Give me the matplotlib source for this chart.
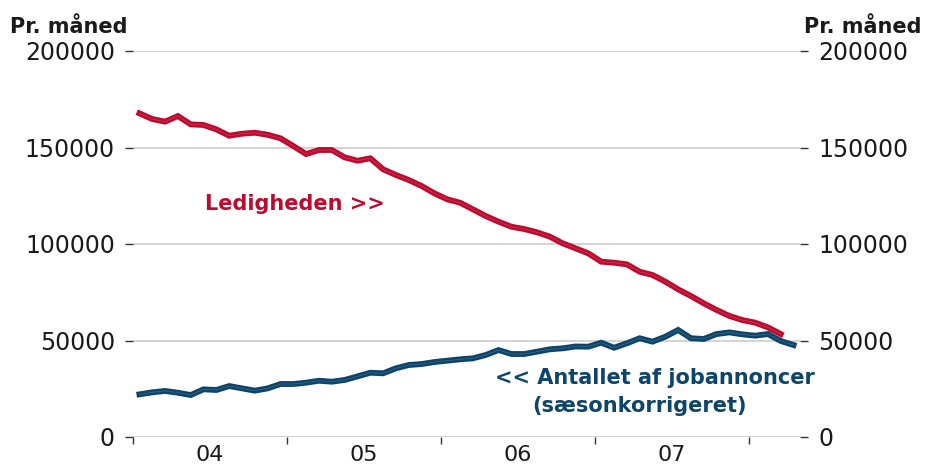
import numpy as np
import matplotlib.pyplot as plt
from matplotlib.ticker import FixedLocator, NullFormatter, FixedFormatter

# monthly data, Jan 2004 -> Apr 2008
ledighed = [167700, 164750, 163400, 166300, 162000, 161650, 159400, 156100, 157150, 157650,
            156600, 154750, 150750, 146600, 148700, 148700, 144900, 143150, 144400, 138700,
            135750, 133150, 130050, 126250, 123150, 121400, 117950, 114500, 111550, 108950,
            107750, 106050, 103800, 100350, 97750, 95150, 90850, 90300, 89450, 85650,
            83950, 80500, 76500, 73050, 69250, 65800, 62700, 60600, 59250, 56800,
            53350]
jobannoncer = [22100, 23150, 23850, 22950, 21750, 24700, 24350, 26400, 25200, 24000,
               25200, 27450, 27450, 28150, 29150, 28650, 29550, 31400, 33300, 33000,
               35600, 37300, 37800, 38850, 39550, 40250, 40750, 42500, 45050, 43000,
               43000, 44200, 45450, 45950, 46900, 46800, 48850, 46250, 48550, 51150,
               49400, 51950, 55450, 51150, 50800, 53350, 54200, 53200, 52500, 53350,
               49750, 47650]
years = ['04', '05', '06', '07']
yticks = [0, 50000, 100000, 150000, 200000]

red = '#BD0A2F'
blue = '#0D4469'
txt = '#1a1a1a'

plt.rcParams['font.family'] = 'DejaVu Sans'

fig = plt.figure(figsize=(9.27, 4.70), dpi=100)
ax = fig.add_axes([133 / 927, 1 - 437 / 470, (800 - 133) / 927, (437 - 51) / 470])

x_red = np.arange(len(ledighed)) + 0.5
x_blue = np.arange(len(jobannoncer)) + 0.5
for xs, ys, c in [(x_red, ledighed, red), (x_blue, jobannoncer, blue)]:
    ax.plot(xs, ys, color=c, lw=4.2, solid_joinstyle='miter', zorder=3)
    ax.plot(xs, ys, color='white', lw=0.4, alpha=0.25, zorder=4)

ax.set_xlim(0, 52)
ax.set_ylim(0, 200000)

for s in ax.spines.values():
    s.set_visible(False)

ax.set_yticks(yticks)
ax.set_yticklabels([str(v) for v in yticks])
ax.grid(axis='y', color='#C8C8C8', lw=1.1, zorder=0)
ax.tick_params(axis='y', left=True, right=True, labelleft=True, labelright=True,
               length=6, width=1.0, color='#333333', pad=7, labelsize=17, labelcolor=txt)

ax.xaxis.set_major_locator(FixedLocator([0, 12, 24, 36, 48]))
ax.xaxis.set_major_formatter(NullFormatter())
ax.xaxis.set_minor_locator(FixedLocator([6, 18, 30, 42]))
ax.xaxis.set_minor_formatter(FixedFormatter(years))
ax.tick_params(axis='x', which='major', length=5, width=1.0, color='#333333')
ax.tick_params(axis='x', which='minor', length=0, pad=6, labelsize=16, labelcolor=txt)

fig.text(10 / 927, 1 - 33 / 470, 'Pr. måned', fontsize=15, fontweight='bold', color=txt,
         ha='left', va='baseline')
fig.text(922 / 927, 1 - 33 / 470, 'Pr. måned', fontsize=15, fontweight='bold', color=txt,
         ha='right', va='baseline')

ax.text(5.6, 120500, 'Ledigheden >>', color=red, fontsize=15, fontweight='bold',
        ha='left', va='center')
ax.text(40.7, 30500, '<< Antallet af jobannoncer', color=blue, fontsize=15,
        fontweight='bold', ha='center', va='center', clip_on=False)
ax.text(39.5, 16000, '(sæsonkorrigeret)', color=blue, fontsize=15, fontweight='bold',
        ha='center', va='center')

fig.savefig('out.png', dpi=100)
